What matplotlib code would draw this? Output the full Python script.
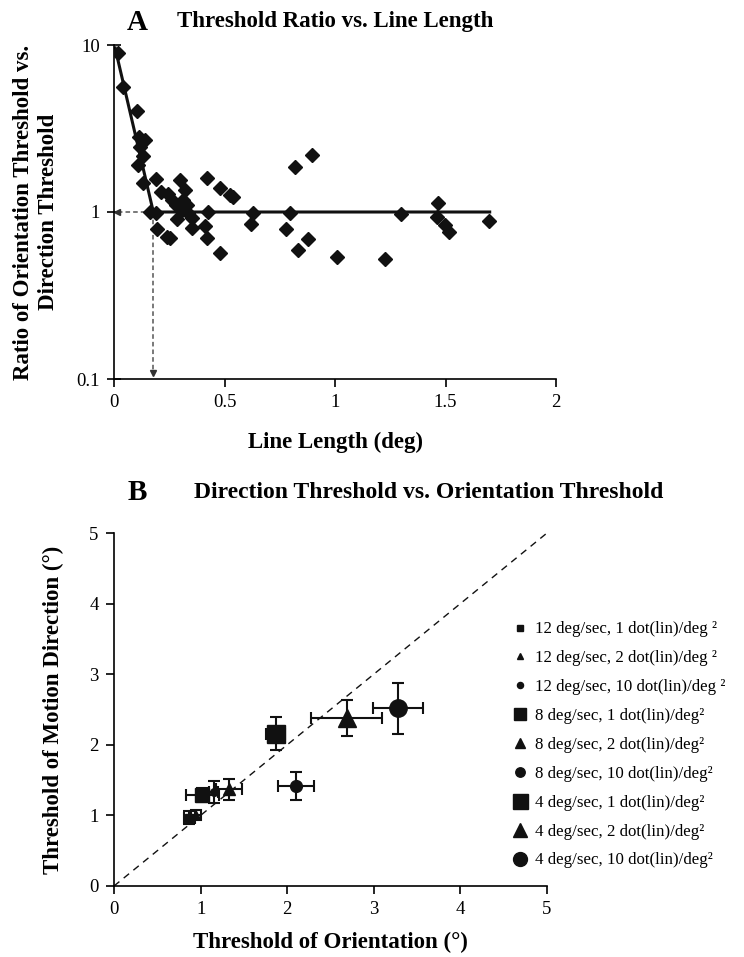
import matplotlib
matplotlib.use("Agg")
import matplotlib.pyplot as plt
from matplotlib.lines import Line2D

plt.rcParams['font.family'] = ['Liberation Serif', 'DejaVu Serif']
plt.rcParams['axes.linewidth'] = 1.2

# ---- panel A: threshold ratio vs line length ----
line_len = [0.02, 0.042, 0.103, 0.115, 0.14, 0.118, 0.133, 0.11, 0.13, 0.19,
            0.299, 0.42, 0.48, 0.525, 0.54, 0.213, 0.246, 0.261, 0.321, 0.311,
            0.28, 0.329, 0.306, 0.336, 0.163, 0.19, 0.284, 0.351, 0.427, 0.412,
            0.351, 0.193, 0.238, 0.253, 0.42, 0.63, 0.62, 0.796, 0.78, 0.819,
            0.894, 0.877, 0.832, 0.48, 1.008, 1.226, 1.297, 1.468, 1.463, 1.498,
            1.517, 1.697]
ratio = [8.9, 5.6, 4.0, 2.8, 2.7, 2.45, 2.15, 1.9, 1.5, 1.58,
         1.55, 1.6, 1.40, 1.26, 1.23, 1.31, 1.29, 1.18, 1.35, 1.18,
         1.10, 1.10, 1.03, 0.98, 1.0, 0.98, 0.91, 0.92, 1.0, 0.82,
         0.80, 0.79, 0.71, 0.70, 0.70, 0.98, 0.845, 0.98, 0.79, 1.87,
         2.19, 0.69, 0.59, 0.566, 0.54, 0.52, 0.975, 1.127, 0.937, 0.836,
         0.756, 0.887]

# two-segment fit
fit_x = [0.005, 0.178, 1.70]
fit_y = [9.6, 1.0, 1.0]
crit_len = 0.178

# ---- panel B: direction vs orientation thresholds ----
labels_b = ['12 deg/sec, 1 dot(lin)/deg \u00b2', '12 deg/sec, 2 dot(lin)/deg \u00b2',
            '12 deg/sec, 10 dot(lin)/deg \u00b2', '8 deg/sec, 1 dot(lin)/deg\u00b2',
            '8 deg/sec, 2 dot(lin)/deg\u00b2', '8 deg/sec, 10 dot(lin)/deg\u00b2',
            '4 deg/sec, 1 dot(lin)/deg\u00b2', '4 deg/sec, 2 dot(lin)/deg\u00b2',
            '4 deg/sec, 10 dot(lin)/deg\u00b2']
orient = [0.87, 0.95, 1.15, 1.02, 1.33, 2.10, 1.87, 2.69, 3.28]
direct = [0.97, 1.01, 1.33, 1.29, 1.37, 1.42, 2.16, 2.38, 2.52]
orient_err = [0.06, 0.06, 0.05, 0.19, 0.15, 0.21, 0.11, 0.41, 0.29]
direct_err = [0.09, 0.07, 0.16, 0.10, 0.15, 0.20, 0.24, 0.25, 0.36]
markers = ['s', '^', 'o', 's', '^', 'o', 's', '^', 'o']
msizes = [6, 6, 5.5, 10, 9, 8.5, 13.5, 13, 12.5]

fig = plt.figure(figsize=(7.44, 9.57), dpi=100)
W, H = 744, 957

def box(x0, y0, x1, y1):
    return [x0 / W, 1 - y1 / H, (x1 - x0) / W, (y1 - y0) / H]

# ---------- A ----------
axA = fig.add_axes(box(114, 45, 556, 379))
axA.set_yscale('log')
axA.set_xlim(0, 2)
axA.set_ylim(0.1, 10)
axA.plot(fit_x, fit_y, color='#111111', lw=2.2, zorder=2)
axA.plot(line_len, ratio, 'D', color='#111111', ms=7.5, zorder=3)
axA.plot([crit_len, 0.012], [1, 1], ls=(0, (3, 2)), color='#555555', lw=1.1, zorder=1)
axA.plot([crit_len, crit_len], [1, 0.112], ls=(0, (3, 2)), color='#555555', lw=1.1, zorder=1)
axA.plot([0.012], [1], marker='<', color='#333333', ms=5, clip_on=False)
axA.plot([crit_len], [0.108], marker='v', color='#333333', ms=5, clip_on=False)
axA.set_xticks([0, 0.5, 1, 1.5, 2])
axA.set_xticklabels(['0', '0.5', '1', '1.5', '2'])
axA.set_yticks([0.1, 1, 10])
axA.set_yticklabels(['0.1', '1', '10'])
axA.yaxis.set_minor_locator(matplotlib.ticker.NullLocator())
for s in ['top', 'right']:
    axA.spines[s].set_visible(False)
axA.tick_params(direction='out', length=6, width=1.2, labelsize=13.5, pad=5)
axA.tick_params(axis='y', direction='inout', length=10)

fig.text(137 / W, 1 - 22 / H, 'A', fontsize=21, fontweight='bold', ha='center', va='center')
fig.text(177 / W, 1 - 22 / H, 'Threshold Ratio vs. Line Length', fontsize=16.5,
         fontweight='bold', ha='left', va='center')
fig.text(335 / W, 1 - 442 / H, 'Line Length (deg)', fontsize=16.5, fontweight='bold',
         ha='center', va='center')
fig.text(36 / W, 1 - 212 / H, 'Ratio of Orientation Threshold vs.\nDirection Threshold',
         fontsize=16.5, fontweight='bold', rotation=90, ha='center', va='center',
         multialignment='center', linespacing=1.25)

# ---------- B ----------
axB = fig.add_axes(box(114, 533, 547, 886))
axB.set_xlim(0, 5)
axB.set_ylim(0, 5)
axB.plot([0, 5], [0, 5], ls=(0, (5, 4)), color='#111111', lw=1.0, zorder=1)
handles = []
for i in range(len(orient)):
    axB.errorbar(orient[i], direct[i], xerr=orient_err[i], yerr=direct_err[i],
                 fmt=markers[i], ms=msizes[i], color='#111111', ecolor='#111111',
                 elinewidth=1.5, capsize=4, capthick=1.5, zorder=3)
    handles.append(Line2D([], [], ls='none', marker=markers[i], ms=msizes[i] * 0.8,
                          color='#111111'))
axB.set_xticks(range(6))
axB.set_yticks(range(6))
for s in ['top', 'right']:
    axB.spines[s].set_visible(False)
axB.tick_params(direction='out', length=6, width=1.2, labelsize=13.5, pad=5)

fig.legend(handles, labels_b, loc='upper left', bbox_to_anchor=(503 / W, 1 - 613 / H),
           frameon=False, fontsize=12.2, handlelength=1.0, handletextpad=0.4,
           labelspacing=0.76, borderpad=0)

fig.text(137 / W, 1 - 493 / H, 'B', fontsize=21, fontweight='bold', ha='center', va='center')
fig.text(194 / W, 1 - 493 / H, 'Direction Threshold vs. Orientation Threshold', fontsize=17,
         fontweight='bold', ha='left', va='center')
fig.text(330 / W, 1 - 942 / H, 'Threshold of Orientation (\u00b0)', fontsize=16.5,
         fontweight='bold', ha='center', va='center')
fig.text(53 / W, 1 - 710 / H, 'Threshold of Motion Direction (\u00b0)', fontsize=16.5,
         fontweight='bold', rotation=90, ha='center', va='center')

fig.savefig('out.png', dpi=100)
